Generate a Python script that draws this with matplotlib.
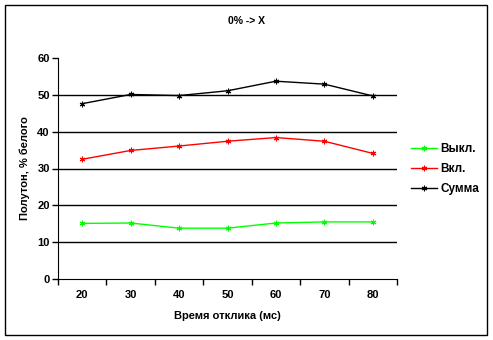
import matplotlib.pyplot as plt
from matplotlib.patches import Rectangle

# data
categories = ["20", "30", "40", "50", "60", "70", "80"]
vykl = [15.1, 15.2, 13.8, 13.8, 15.2, 15.5, 15.5]
vkl = [32.5, 34.9, 36.1, 37.4, 38.4, 37.4, 34.1]
summa = [47.6, 50.1, 49.8, 51.1, 53.7, 52.9, 49.7]
y_ticks = [0, 10, 20, 30, 40, 50, 60]

plt.rcParams["font.family"] = ["Liberation Sans", "DejaVu Sans"]
plt.rcParams["font.weight"] = "bold"

fig = plt.figure(figsize=(4.93, 3.40), dpi=100)
fig.patches.append(Rectangle((5 / 493, 5 / 340), 482 / 493, 330 / 340,
                             transform=fig.transFigure, fill=False,
                             edgecolor="black", linewidth=1))

ax = fig.add_axes([58 / 493, 61 / 340, 339 / 493, 221 / 340])

x = list(range(len(categories)))
star = (6, 2, 0)
ax.plot(x, vykl, color="#00ff00", lw=1, marker=star, ms=4, mew=0.8, label="Выкл.")
ax.plot(x, vkl, color="#ff0000", lw=1, marker=star, ms=4, mew=0.8, label="Вкл.")
ax.plot(x, summa, color="black", lw=1, marker=star, ms=4, mew=0.8, label="Сумма")

ax.set_xlim(-0.5, len(categories) - 0.5)
ax.set_ylim(0, 60)
ax.set_yticks(y_ticks)
for v in y_ticks[1:-1]:
    ax.axhline(v, color="black", lw=1, zorder=0)

ax.set_xticks(x)
ax.set_xticklabels(categories)
ax.set_xticks([i - 0.5 for i in range(len(categories) + 1)], minor=True)
ax.tick_params(axis="x", which="major", length=0, pad=8, labelsize=8)
ax.tick_params(axis="x", which="minor", length=4, width=1)
ax.tick_params(axis="y", length=4, width=1, labelsize=8, pad=2)

ax.spines["top"].set_visible(False)
ax.spines["right"].set_visible(False)

ax.set_xlabel("Время отклика (мс)", fontsize=8, fontweight="bold", labelpad=8)
ax.set_ylabel("Полутон, % белого", fontsize=8, fontweight="bold", labelpad=5)
fig.text(246 / 493, 1 - 21 / 340, "0% -> X", ha="center", va="center",
         fontsize=7.5, fontweight="bold")

fig.legend(loc="center left", bbox_to_anchor=(411 / 493, 1 - 169 / 340),
           frameon=False, handlelength=2.2, handletextpad=0.3,
           labelspacing=0.7, borderpad=0, borderaxespad=0,
           prop={"weight": "bold", "size": 8.5})

fig.savefig("out.png", dpi=100)
